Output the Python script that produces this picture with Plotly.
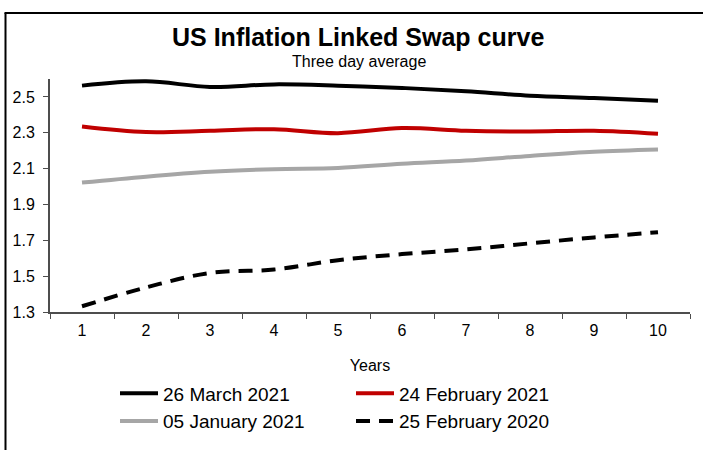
import plotly.graph_objects as go

years = ["1", "2", "3", "4", "5", "6", "7", "8", "9", "10"]
mar_2021 = [2.563, 2.587, 2.556, 2.570, 2.563, 2.550, 2.531, 2.507, 2.494, 2.479]
feb_2021 = [2.335, 2.304, 2.311, 2.320, 2.298, 2.326, 2.311, 2.307, 2.311, 2.294]
jan_2021 = [2.022, 2.055, 2.082, 2.097, 2.104, 2.127, 2.145, 2.171, 2.194, 2.207]
feb_2020 = [1.332, 1.437, 1.518, 1.537, 1.589, 1.623, 1.649, 1.683, 1.716, 1.745]
y_ticks = [1.3, 1.5, 1.7, 1.9, 2.1, 2.3, 2.5]

FONT = "Liberation Sans, Arial, sans-serif"

# plot-area pixel geometry
L, R, T, B = 50, 690, 79.4, 311.7
W, H = R - L, B - T
def px(x):
    return (x - L) / W
def py(y):
    return (B - y) / H

fig = go.Figure()
series = [
    ("26 March 2021", mar_2021, "#000000", "solid"),
    ("24 February 2021", feb_2021, "#C00000", "solid"),
    ("05 January 2021", jan_2021, "#A6A6A6", "solid"),
    ("25 February 2020", feb_2020, "#000000", "14px,9px"),
]
for name, vals, color, dash in series:
    fig.add_trace(go.Scatter(
        x=years, y=vals, name=name, mode="lines",
        line=dict(color=color, width=4, dash=dash, shape="spline", smoothing=1.0),
    ))

fig.update_layout(
    width=703, height=450,
    margin=dict(l=L, r=703 - R, t=T, b=450 - B, pad=0, autoexpand=False),
    paper_bgcolor="white", plot_bgcolor="white",
    font=dict(family=FONT, size=16, color="#000000"),
    showlegend=True,
    legend=dict(
        orientation="h", x=px(115), y=py(374), xanchor="left", yanchor="top",
        font=dict(family=FONT, size=19, color="#000000"),
        entrywidth=183, entrywidthmode="pixels", itemwidth=38,
        traceorder="normal", bgcolor="rgba(0,0,0,0)",
    ),
    xaxis=dict(
        type="category", range=[-0.5, 9.5], automargin=False,
        showline=True, linecolor="#4d4d4d", linewidth=2,
        ticks="outside", ticklen=5, tickcolor="#4d4d4d", tickwidth=1,
        tickson="boundaries", showgrid=False, zeroline=False,
        tickfont=dict(family=FONT, size=16, color="#000000"),
        ticklabelstandoff=3,
        title=dict(text="Years", standoff=22, font=dict(family=FONT, size=16, color="#000000")),
    ),
    yaxis=dict(
        range=[1.3, 2.6], tickvals=y_ticks, ticktext=[f"{v:.1f}" for v in y_ticks],
        automargin=False,
        showline=True, linecolor="#4d4d4d", linewidth=2,
        ticks="outside", ticklen=5, tickcolor="#4d4d4d", tickwidth=1,
        showgrid=False, zeroline=False,
        tickfont=dict(family=FONT, size=16, color="#000000"),
        ticklabelstandoff=5,
    ),
    annotations=[
        dict(text="<b>US Inflation Linked Swap curve</b>", x=px(357.5), y=py(38),
             xref="paper", yref="paper", xanchor="center", yanchor="middle",
             showarrow=False, font=dict(family=FONT, size=25, color="#000000")),
        dict(text="Three day average", x=px(358.5), y=py(62),
             xref="paper", yref="paper", xanchor="center", yanchor="middle",
             showarrow=False, font=dict(family=FONT, size=16, color="#000000")),
    ],
    shapes=[
        dict(type="line", xref="paper", yref="paper", x0=px(5.5), x1=px(5.5), y0=py(13.5), y1=py(460),
             line=dict(color="#000000", width=2)),
        dict(type="line", xref="paper", yref="paper", x0=px(4.5), x1=px(720), y0=py(13.5), y1=py(13.5),
             line=dict(color="#000000", width=2)),
    ],
)

fig.write_html("out.html")
